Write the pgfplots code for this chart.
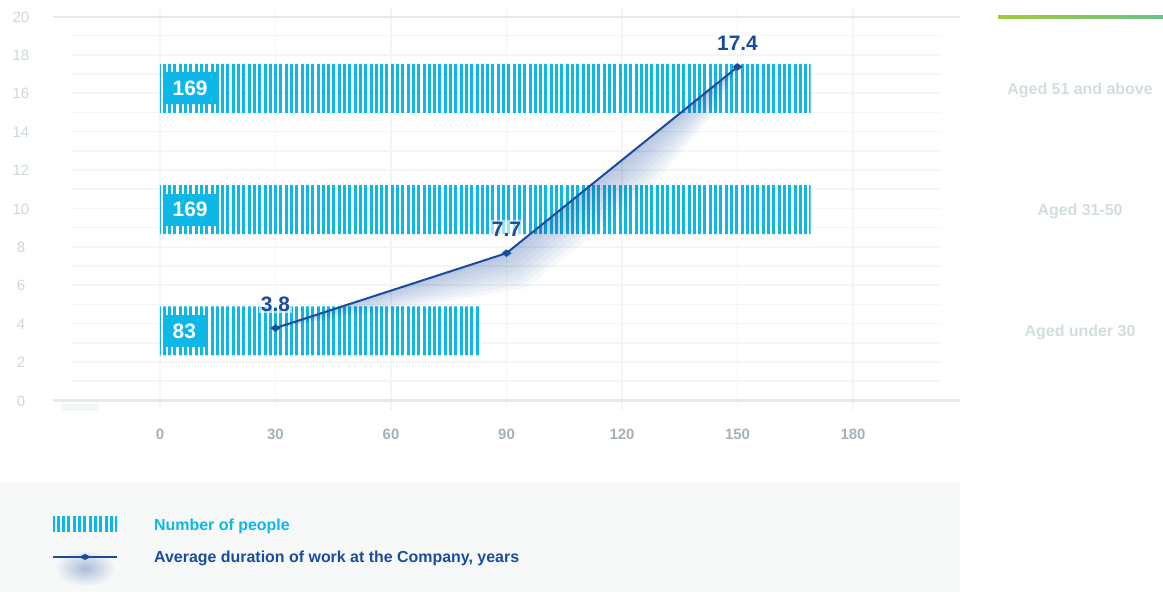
\documentclass[border=0pt]{standalone}
\usepackage{pgfplots}
\pgfplotsset{compat=1.18}
\usepackage{fontspec}
\setmainfont{Liberation Sans}
\usetikzlibrary{patterns.meta,fadings}
\definecolor{cyanbar}{HTML}{0DB7E6}
\definecolor{dblue}{HTML}{1A4C9E}
\definecolor{xtickc}{HTML}{A5B1B7}
\definecolor{ytickc}{HTML}{CDD7DB}
\definecolor{catc}{HTML}{D3DCDF}
\definecolor{axlc}{HTML}{E4E9EB}
\definecolor{gridc}{HTML}{F3F6F7}
\definecolor{legbg}{HTML}{F7F9F9}
\definecolor{greenA}{HTML}{A2CB3A}
\definecolor{greenB}{HTML}{6CC186}
\tikzfading[name=glow, inner color=transparent!65, outer color=transparent!100]
\begin{document}
\begin{tikzpicture}[x=1bp,y=1bp]
\path[use as bounding box] (0,0) rectangle (1163,592);
% legend background
\fill[legbg] (0,0) rectangle (960,109);
% grid lines
\foreach \k in {1,...,19}{\draw[gridc, line width=1.6bp] (72,{191.5+19.2*\k}) -- (940,{191.5+19.2*\k});}
\foreach \j in {0,...,6}{\draw[gridc, line width=1.6bp] ({160+115.5*\j},182) -- ({160+115.5*\j},584);}
% top and bottom axis lines
\draw[axlc, line width=3bp] (53,191) -- (960,191);
\draw[axlc, line width=2.5bp] (53,575) -- (960,575);
\fill[gridc] (61,181) rectangle (99,188);
% green line
\shade[left color=greenA, right color=greenB] (998,573.5) rectangle (1163,576);
\begin{axis}[
  at={(53bp,191bp)}, anchor=south west,
  scale only axis, width=907bp, height=384bp,
  xmin=-27.79, xmax=207.79, ymin=0, ymax=20,
  clip=false,
  axis line style={draw=none}, tick style={draw=none},
  xtick={0,30,...,180}, ytick={0,2,...,20},
  /pgf/number format/assume math mode=true,
  xticklabel style={anchor=center, yshift=-33bp, text=xtickc, font=\fontsize{15}{18}\selectfont\bfseries},
  yticklabel style={anchor=center, xshift=-32bp, text=ytickc, font=\fontsize{15}{18}\selectfont},
  glowlayer/.style={forget plot, draw=none, fill=dblue, fill opacity=0.045},
]
% bars
\addplot[xbar, bar width=2.55, draw=none,
  pattern={Lines[angle=90,distance=5.3bp,line width=3bp]}, pattern color=cyanbar]
  coordinates {(83,3.65) (169,9.97) (169,16.28)};
% bar value boxes
\addplot[only marks, mark=none, point meta=explicit symbolic, nodes near coords,
  nodes near coords style={anchor=west, xshift=2.5bp, fill=cyanbar, text=white,
  inner xsep=10bp, inner ysep=0bp, minimum height=32bp, font=\fontsize{21}{24}\selectfont\bfseries}]
  coordinates {(0,3.65)[83] (0,9.97)[169] (0,16.28)[169]};
% soft glow under the line (stacked translucent layers)
\addplot[glowlayer] coordinates {(30,3.8) (90,7.7) (150,17.4) (141.55,15.84) (120.95,12.35) (90.74,7.48) (60.20,5.63)} -- cycle;
\addplot[glowlayer] coordinates {(30,3.8) (90,7.7) (150,17.4) (141.96,15.74) (121.77,12.146) (91.35,7.25) (60.40,5.508)} -- cycle;
\addplot[glowlayer] coordinates {(30,3.8) (90,7.7) (150,17.4) (142.37,15.64) (122.58,11.94) (91.96,7.02) (60.60,5.384)} -- cycle;
\addplot[glowlayer] coordinates {(30,3.8) (90,7.7) (150,17.4) (142.78,15.54) (123.40,11.74) (92.57,6.79) (60.81,5.26)} -- cycle;
\addplot[glowlayer] coordinates {(30,3.8) (90,7.7) (150,17.4) (143.19,15.43) (124.22,11.54) (93.18,6.56) (61.01,5.137)} -- cycle;
\addplot[glowlayer] coordinates {(30,3.8) (90,7.7) (150,17.4) (143.60,15.333) (125.04,11.333) (93.79,6.333) (61.21,5.013)} -- cycle;
\addplot[glowlayer] coordinates {(30,3.8) (90,7.7) (150,17.4) (144.01,15.23) (125.86,11.13) (94.40,6.10) (61.41,4.89)} -- cycle;
\addplot[glowlayer] coordinates {(30,3.8) (90,7.7) (150,17.4) (144.42,15.13) (126.68,10.927) (95.01,5.875) (61.61,4.766)} -- cycle;
% line
\addplot[color=dblue, line width=2bp, mark=diamond*, mark size=3.2bp,
  mark options={xscale=1.4, yscale=0.8},
  point meta=explicit symbolic, nodes near coords,
  nodes near coords style={anchor=center, yshift=24bp, text=dblue, fill=white, fill opacity=0.6, text opacity=1,
  inner sep=2bp, font=\fontsize{21}{24}\selectfont\bfseries}]
  coordinates {(30,3.8)[3.8] (90,7.7)[7.7] (150,17.4)[17.4]};
% category labels
\node[text=catc, yshift=-2bp, font=\fontsize{16}{19}\selectfont\bfseries] at (axis cs:238.96,16.28) {Aged 51 and above};
\node[text=catc, yshift=-2bp, font=\fontsize{16}{19}\selectfont\bfseries] at (axis cs:238.96,9.97) {Aged 31-50};
\node[text=catc, yshift=-2bp, font=\fontsize{16}{19}\selectfont\bfseries] at (axis cs:238.96,3.65) {Aged under 30};
\end{axis}
% legend
\fill[pattern={Lines[angle=90,distance=5.3bp,line width=3bp]}, pattern color=cyanbar] (53,60) rectangle (117,75);
\node[anchor=base west, inner sep=0, text=cyanbar, font=\fontsize{16}{19}\selectfont\bfseries] at (154,61) {Number of people};
\fill[dblue, path fading=glow] (85,24) ellipse (30 and 18);
\draw[dblue, line width=2.5bp] (53,35) -- (117,35);
\fill[dblue] (79,35) -- (85,38) -- (91,35) -- (85,32) -- cycle;
\node[anchor=base west, inner sep=0, text=dblue, font=\fontsize{16}{19}\selectfont\bfseries] at (154,29) {Average duration of work at the Company, years};
\end{tikzpicture}
\end{document}
